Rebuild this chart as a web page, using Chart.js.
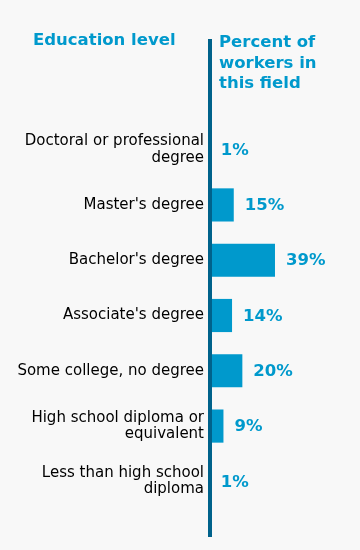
<!DOCTYPE html>
<html>
<head>
<meta charset="utf-8">
<script src="https://cdn.jsdelivr.net/npm/chart.js@4"></script>
<style>
  body { margin: 0; background: #f8f8f8; }
  #wrap { position: relative; width: 360px; height: 550px; }
  .head { position: absolute; font: bold 16.5px "DejaVu Sans", Verdana, sans-serif; color: #0099cc; line-height: 20.5px; }
</style>
</head>
<body>
<div id="wrap">
  <canvas id="myChart"></canvas>
  <div class="head" style="left:33px; top:30px;">Education level</div>
  <div class="head" style="left:219px; top:32px;">Percent of<br>workers in<br>this field</div>
</div>
<script>
let categories = [
    ["Doctoral or professional", "degree"],
    "Master's degree",
    "Bachelor's degree",
    "Associate's degree",
    "Some college, no degree",
    ["High school diploma or", "equivalent"],
    ["Less than high school", "diploma"]
];
let percents = [1, 15, 39, 14, 20, 9, 1];

// value labels next to each bar
const valueLabels = {
    id: 'valueLabels',
    afterDatasetsDraw(chart) {
        let ctx = chart.ctx;
        let meta = chart.getDatasetMeta(0);
        ctx.save();
        ctx.font = 'bold 16.5px "DejaVu Sans", Verdana, sans-serif';
        ctx.fillStyle = '#0099cc';
        ctx.textBaseline = 'middle';
        meta.data.forEach((bar, i) => {
            ctx.fillText(percents[i] + '%', bar.x + 11, bar.y + 1);
        });
        ctx.restore();
    }
};

// the thick vertical axis line
const axisLine = {
    id: 'axisLine',
    afterDatasetsDraw(chart) {
        let ctx = chart.ctx;
        let x0 = chart.scales.x.getPixelForValue(0);
        ctx.save();
        ctx.fillStyle = '#00628b';
        ctx.fillRect(x0, chart.chartArea.top - 83, 4, chart.chartArea.bottom - chart.chartArea.top + 111);
        ctx.restore();
    }
};

let ctx = document.getElementById('myChart').getContext('2d');
new Chart(ctx, {
    type: 'bar',
    data: {
        labels: categories,
        datasets: [{
            data: percents,
            backgroundColor: '#0099cc',
            barPercentage: 0.6,
            categoryPercentage: 1.0
        }]
    },
    options: {
        indexAxis: 'y',
        responsive: true,
        maintainAspectRatio: false,
        animation: false,
        layout: { padding: { top: 122, bottom: 41, left: 0, right: 6 } },
        plugins: {
            legend: { display: false },
            tooltip: { enabled: false }
        },
        scales: {
            x: { display: false, min: 0, max: 85 },
            y: {
                grid: { display: false, drawTicks: false },
                border: { display: false },
                afterFit(scale) { scale.width = 208; },
                ticks: {
                    padding: 4,
                    color: '#000',
                    font: { family: '"DejaVu Sans", Verdana, sans-serif', size: 15, lineHeight: 1.1 }
                }
            }
        }
    },
    plugins: [valueLabels, axisLine]
});
</script>
</body>
</html>
